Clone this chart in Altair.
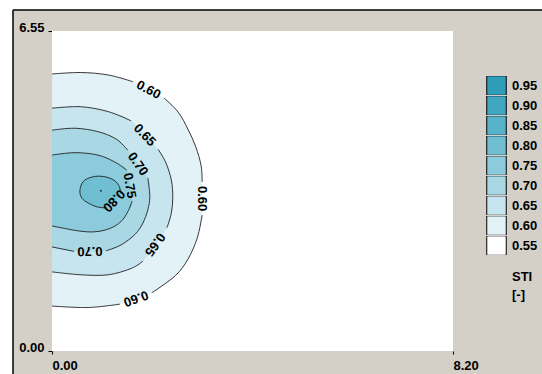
import math
import altair as alt
import pandas as pd

# ---------------- data ----------------
levels = ["0.95", "0.90", "0.85", "0.80", "0.75", "0.70", "0.65", "0.60", "0.55"]
level_colors = ["#2F9CB8", "#41A7C0", "#57B2C9", "#6FBED2", "#8CCBDB",
                "#A9D8E4", "#C6E5EE", "#E3F2F6", "#FFFFFF"]

x_ticks = [0.0, 8.2]
y_ticks = [0.0, 6.55]

# contour STI = 0.60 (open, clipped by left edge); gaps = label positions
c060_x = [0.00, 0.59, 1.15, 1.66, 2.29, 2.58, 2.78, 2.94, 3.05, 3.07, 3.07, 2.97, 2.78, 2.52, 2.04, 1.39, 0.74, 0.00]
c060_y = [5.67, 5.70, 5.65, 5.51, 5.18, 4.89, 4.54, 4.18, 3.79, 3.46, 2.78, 2.31, 1.88, 1.54, 1.19, 0.96, 0.89, 0.92]
c060_gaps = [3, 9, 14]

# contour 0.65
c065_x = [0.00, 0.59, 1.15, 1.62, 2.17, 2.33, 2.44, 2.47, 2.44, 2.35, 1.86, 1.62, 1.15, 0.59, 0.00]
c065_y = [4.97, 5.00, 4.90, 4.71, 4.13, 3.85, 3.50, 3.15, 2.82, 2.52, 1.84, 1.69, 1.56, 1.56, 1.62]
c065_gaps = [3, 9]

# contour 0.70
c070_x = [0.00, 0.47, 0.94, 1.31, 1.55, 1.96, 2.00, 1.96, 1.86, 1.70, 1.41, 1.10, 0.45, 0.00]
c070_y = [4.52, 4.56, 4.49, 4.34, 4.11, 3.54, 3.16, 2.89, 2.62, 2.39, 2.17, 2.05, 2.04, 2.13]
c070_gaps = [4, 11]

# contour 0.75
c075_x = [0.00, 0.47, 0.94, 1.28, 1.53, 1.64, 1.55, 1.41, 1.19, 0.88, 0.53, 0.00]
c075_y = [4.01, 4.06, 4.01, 3.87, 3.70, 3.07, 2.85, 2.65, 2.51, 2.44, 2.46, 2.56]
c075_gaps = [4]

# contour 0.80 (closed loop)
c080_x = [0.57, 0.63, 0.78, 0.96, 1.15, 1.29, 1.37, 1.41, 1.12, 0.92, 0.74, 0.61]
c080_y = [3.28, 3.46, 3.55, 3.58, 3.55, 3.48, 3.38, 3.23, 2.93, 2.95, 3.03, 3.13]
c080_gaps = [7]

# source point
source_x = [1.00]
source_y = [3.28]

contours = [
    ("0.60", c060_x, c060_y, c060_gaps, False),
    ("0.65", c065_x, c065_y, c065_gaps, False),
    ("0.70", c070_x, c070_y, c070_gaps, False),
    ("0.75", c075_x, c075_y, c075_gaps, False),
    ("0.80", c080_x, c080_y, c080_gaps, True),
]

# ---------------- layout ----------------
W, H = 529, 364            # grey panel (view)
PAD_L, PAD_T = 13, 10
PLOT_L, PLOT_R, PLOT_T, PLOT_B = 52, 453, 31, 351
kx = (PLOT_R - PLOT_L) / (x_ticks[1] - x_ticks[0])
ky = (PLOT_B - PLOT_T) / (y_ticks[1] - y_ticks[0])
x0_rel = PLOT_L - PAD_L
y0_rel = PLOT_B - PAD_T
XMIN, XMAX = -x0_rel / kx, (W - x0_rel) / kx
YMIN, YMAX = (y0_rel - H) / ky, y0_rel / ky

FONT = "Liberation Sans"
ROW = 19.1     # legend row pitch
SWATCH = 19.5  # legend swatch side

# ---------------- tables ----------------
fill_open, fill_closed, stroke_rows, label_rows = [], [], [], []
for lev, xs_, ys_, gaps, closed in contours:
    n = len(xs_)
    target = fill_closed if closed else fill_open
    for i in range(n):
        target.append({"level": lev, "i": i, "x": xs_[i], "y": ys_[i]})
    if not closed:
        segs, start = [], 0
        for g in sorted(gaps):
            segs.append(list(range(start, g + 1)))
            start = g + 1
        segs.append(list(range(start, n)))
    else:
        g0 = gaps[0]
        order = [(g0 + 1 + j) % n for j in range(n)]
        segs, cur = [], []
        for idx in order:
            cur.append(idx)
            if idx in gaps and idx != g0:
                segs.append(cur)
                cur = []
        segs.append(cur)
    for s, seg in enumerate(segs):
        for j, idx in enumerate(seg):
            stroke_rows.append({"seg": f"{lev}-{s}", "i": j, "x": xs_[idx], "y": ys_[idx]})
    for g in gaps:
        a, b = g, (g + 1) % n
        dx = (xs_[b] - xs_[a]) * kx
        dy = -(ys_[b] - ys_[a]) * ky
        ang = math.degrees(math.atan2(dy, dx)) % 360
        label_rows.append({"level": lev, "x": (xs_[a] + xs_[b]) / 2,
                           "y": (ys_[a] + ys_[b]) / 2, "angle": ang})

plot_df = pd.DataFrame({"x": [x_ticks[0]], "x2": [x_ticks[1]], "y": [y_ticks[0]], "y2": [y_ticks[1]]})
fill_open_df = pd.DataFrame(fill_open)
fill_closed_df = pd.DataFrame(fill_closed)
stroke_df = pd.DataFrame(stroke_rows)
label_df = pd.DataFrame(label_rows)
source_df = pd.DataFrame({"x": source_x, "y": source_y})

# ---------------- scales / axes ----------------
xs = alt.Scale(domain=[XMIN, XMAX], nice=False, zero=False)
ys = alt.Scale(domain=[YMIN, YMAX], nice=False, zero=False)
axis_common = dict(title=None, domain=False, grid=False, format=".2f",
                   labelFont=FONT, labelFontSize=13, labelFontWeight="bold",
                   labelColor="black", tickColor="black", tickWidth=1,
                   labelFlush=False, labelOverlap=False)
x_axis = alt.Axis(values=x_ticks, tickSize=3, labelAlign="left", labelBaseline="top",
                  labelPadding=5, offset=-(H - y0_rel), **axis_common)
y_axis = alt.Axis(values=y_ticks, tickSize=4, labelAlign="right", labelBaseline="alphabetic",
                  labelPadding=4, offset=-x0_rel, **axis_common)


def X(f="x"):
    return alt.X(f"{f}:Q", scale=xs, axis=x_axis)


def Y(f="y"):
    return alt.Y(f"{f}:Q", scale=ys, axis=y_axis)


fill_enc = alt.Fill(
    "level:N",
    scale=alt.Scale(domain=levels, range=level_colors),
    legend=alt.Legend(
        orient="none", legendX=486 - PAD_L, legendY=76 - PAD_T, padding=0,
        title=["STI", "[-]"], titleOrient="bottom", titleAnchor="middle", titleAlign="left",
        titleFont=FONT, titleFontSize=13, titleFontWeight="bold", titleColor="black",
        titlePadding=16, titleLineHeight=18,
        symbolType="square", symbolSize=SWATCH * SWATCH, symbolStrokeColor="black", symbolStrokeWidth=1,
        symbolOpacity=1, rowPadding=0, clipHeight=ROW,
        labelFont=FONT, labelFontSize=13, labelFontWeight="bold", labelColor="black", labelOffset=5,
    ),
)

bg = alt.Chart(plot_df).mark_rect(fill="white").encode(x=X(), x2="x2:Q", y=Y(), y2="y2:Q")

fills = alt.Chart(fill_open_df).mark_line(filled=True, interpolate="cardinal").encode(
    x=X(), y=Y(), order="i:Q", detail="level:N", fill=fill_enc)

fill_loop = alt.Chart(fill_closed_df).mark_line(filled=True, interpolate="cardinal-closed").encode(
    x=X(), y=Y(), order="i:Q", detail="level:N", fill=fill_enc)

strokes = alt.Chart(stroke_df).mark_line(color="#222222", strokeWidth=0.9, interpolate="cardinal").encode(
    x=X(), y=Y(), order="i:Q", detail="seg:N")

labels = alt.Chart(label_df).mark_text(font=FONT, fontSize=13, fontWeight="bold", color="black",
                                       align="center", baseline="middle").encode(
    x=X(), y=Y(), text="level:N", angle=alt.Angle("angle:Q", scale=None))

dot = alt.Chart(source_df).mark_circle(size=4, color="#333333", opacity=1).encode(x=X(), y=Y())

chart = alt.layer(bg, fills, fill_loop, strokes, labels, dot).properties(
    width=W, height=H, background="white",
    padding={"left": PAD_L, "top": PAD_T, "right": 0, "bottom": 0},
    autosize=alt.AutoSizeParams(type="none"),
).configure_view(fill="#D4D0C8", stroke="black", strokeWidth=1.5, strokeDash=[W, H + W, H, 0])

chart.save("out.html", embed_options={"renderer": "svg", "actions": False})
